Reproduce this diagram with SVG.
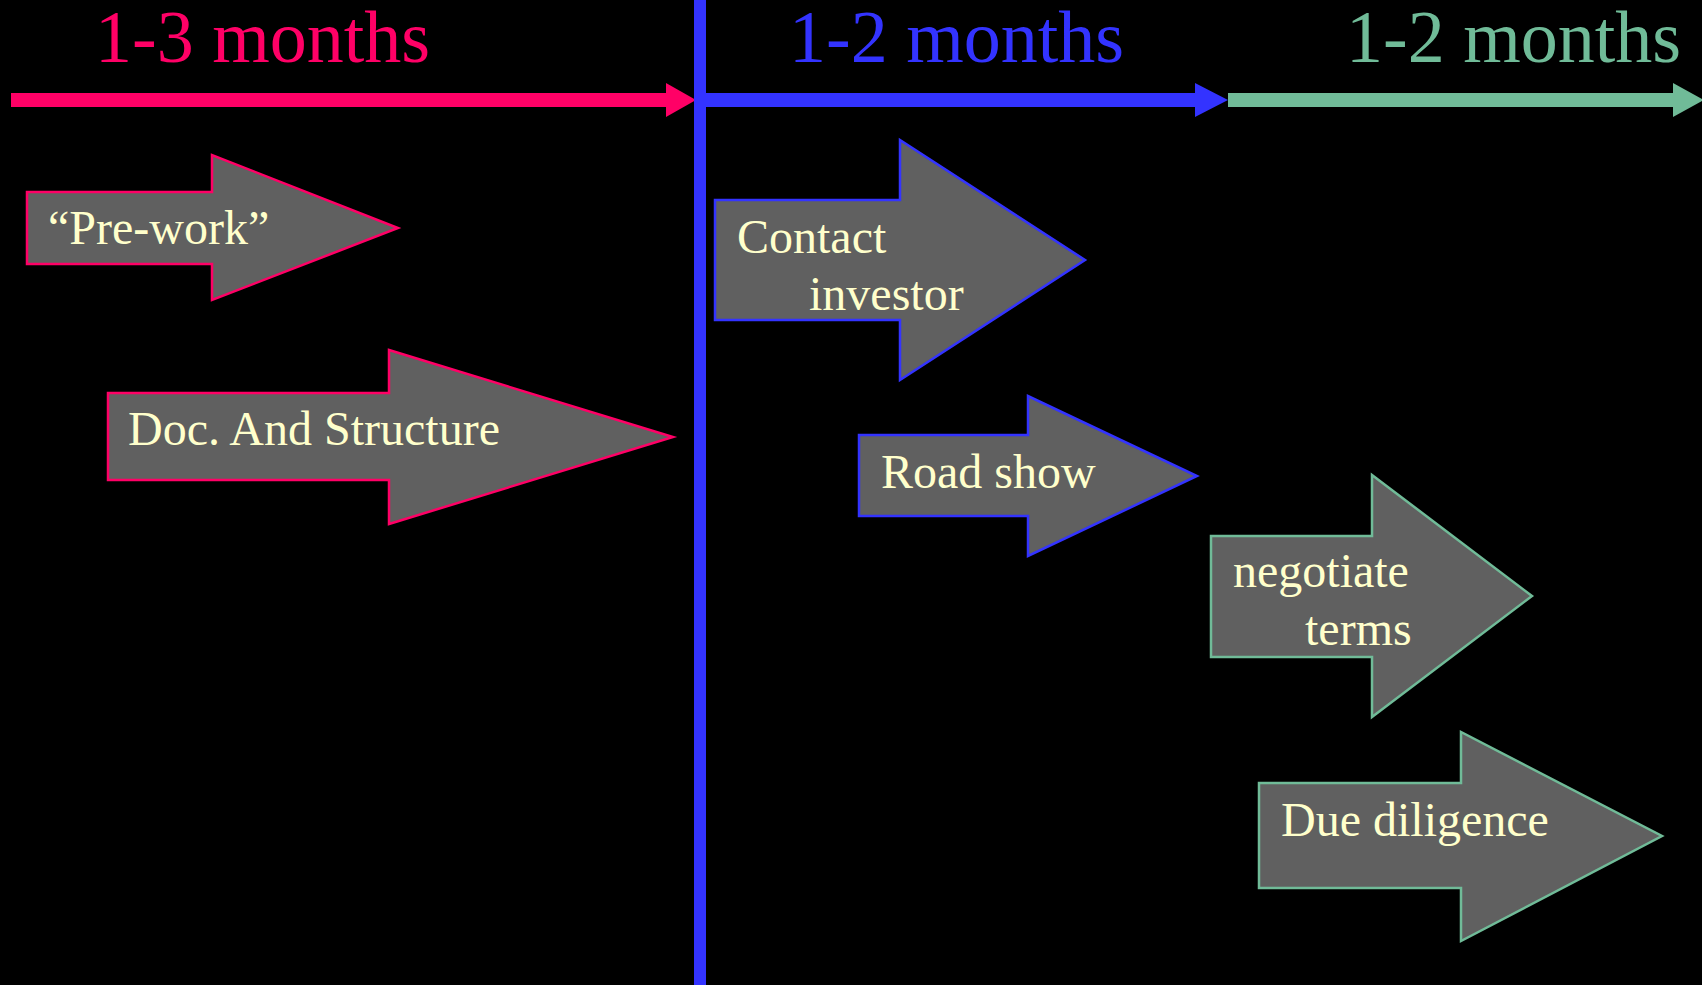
<svg xmlns="http://www.w3.org/2000/svg" width="1702" height="985" viewBox="0 0 1702 985">
<style>
.step{fill:#606060;stroke-width:2.5;stroke-linejoin:miter}
.pink{stroke:#FF0066}
.blue{stroke:#3333FF}
.green{stroke:#70BB98}
.lbl{font-family:"Liberation Serif","Times New Roman",serif;font-size:48px;fill:#FFFFCC}
.ttl{font-family:"Liberation Serif","Times New Roman",serif;font-size:74px}
</style>
<rect width="1702" height="985" fill="#000"/>
<g id="titles">
<text class="ttl" x="95" y="62" fill="#FF0066">1-3 months</text>
<text class="ttl" x="789" y="62" fill="#3333FF">1-2 months</text>
<text class="ttl" x="1346" y="62" fill="#70BB98">1-2 months</text>
</g>
<g id="connectors">
<polygon fill="#FF0066" points="11,93 666,93 666,83 696,100 666,117 666,107 11,107"/>
<polygon fill="#3333FF" points="706,93 1195,93 1195,83 1228,100 1195,117 1195,107 706,107"/>
<polygon fill="#70BB98" points="1228,93 1673,93 1673,83 1704,100 1673,117 1673,107 1228,107"/>
<rect x="694" y="0" width="12" height="985" fill="#3333FF"/>
</g>
<g id="prework">
<polygon class="step pink" points="27,192 212,192 212,155 398,228 212,300 212,264 27,264"/>
<text class="lbl" x="48" y="244">“Pre-work”</text>
</g>
<g id="doc">
<polygon class="step pink" points="108,393 389,393 389,350 673,437 389,524 389,480 108,480"/>
<text class="lbl" x="128" y="445">Doc. And Structure</text>
</g>
<g id="contact">
<polygon class="step blue" points="715,200 900,200 900,140 1085,260 900,380 900,320 715,320"/>
<text class="lbl" x="737" y="253">Contact</text>
<text class="lbl" x="809" y="310">investor</text>
</g>
<g id="roadshow">
<polygon class="step blue" points="859,435 1028,435 1028,396 1197,476 1028,556 1028,516 859,516"/>
<text class="lbl" x="881" y="488">Road show</text>
</g>
<g id="negotiate">
<polygon class="step green" points="1211,536 1372,536 1372,475 1532,596 1372,717 1372,657 1211,657"/>
<text class="lbl" x="1233" y="587">negotiate</text>
<text class="lbl" x="1305" y="645">terms</text>
</g>
<g id="duediligence">
<polygon class="step green" points="1259,783 1461,783 1461,732 1662,836 1461,941 1461,888 1259,888"/>
<text class="lbl" x="1281" y="836">Due diligence</text>
</g>
</svg>
